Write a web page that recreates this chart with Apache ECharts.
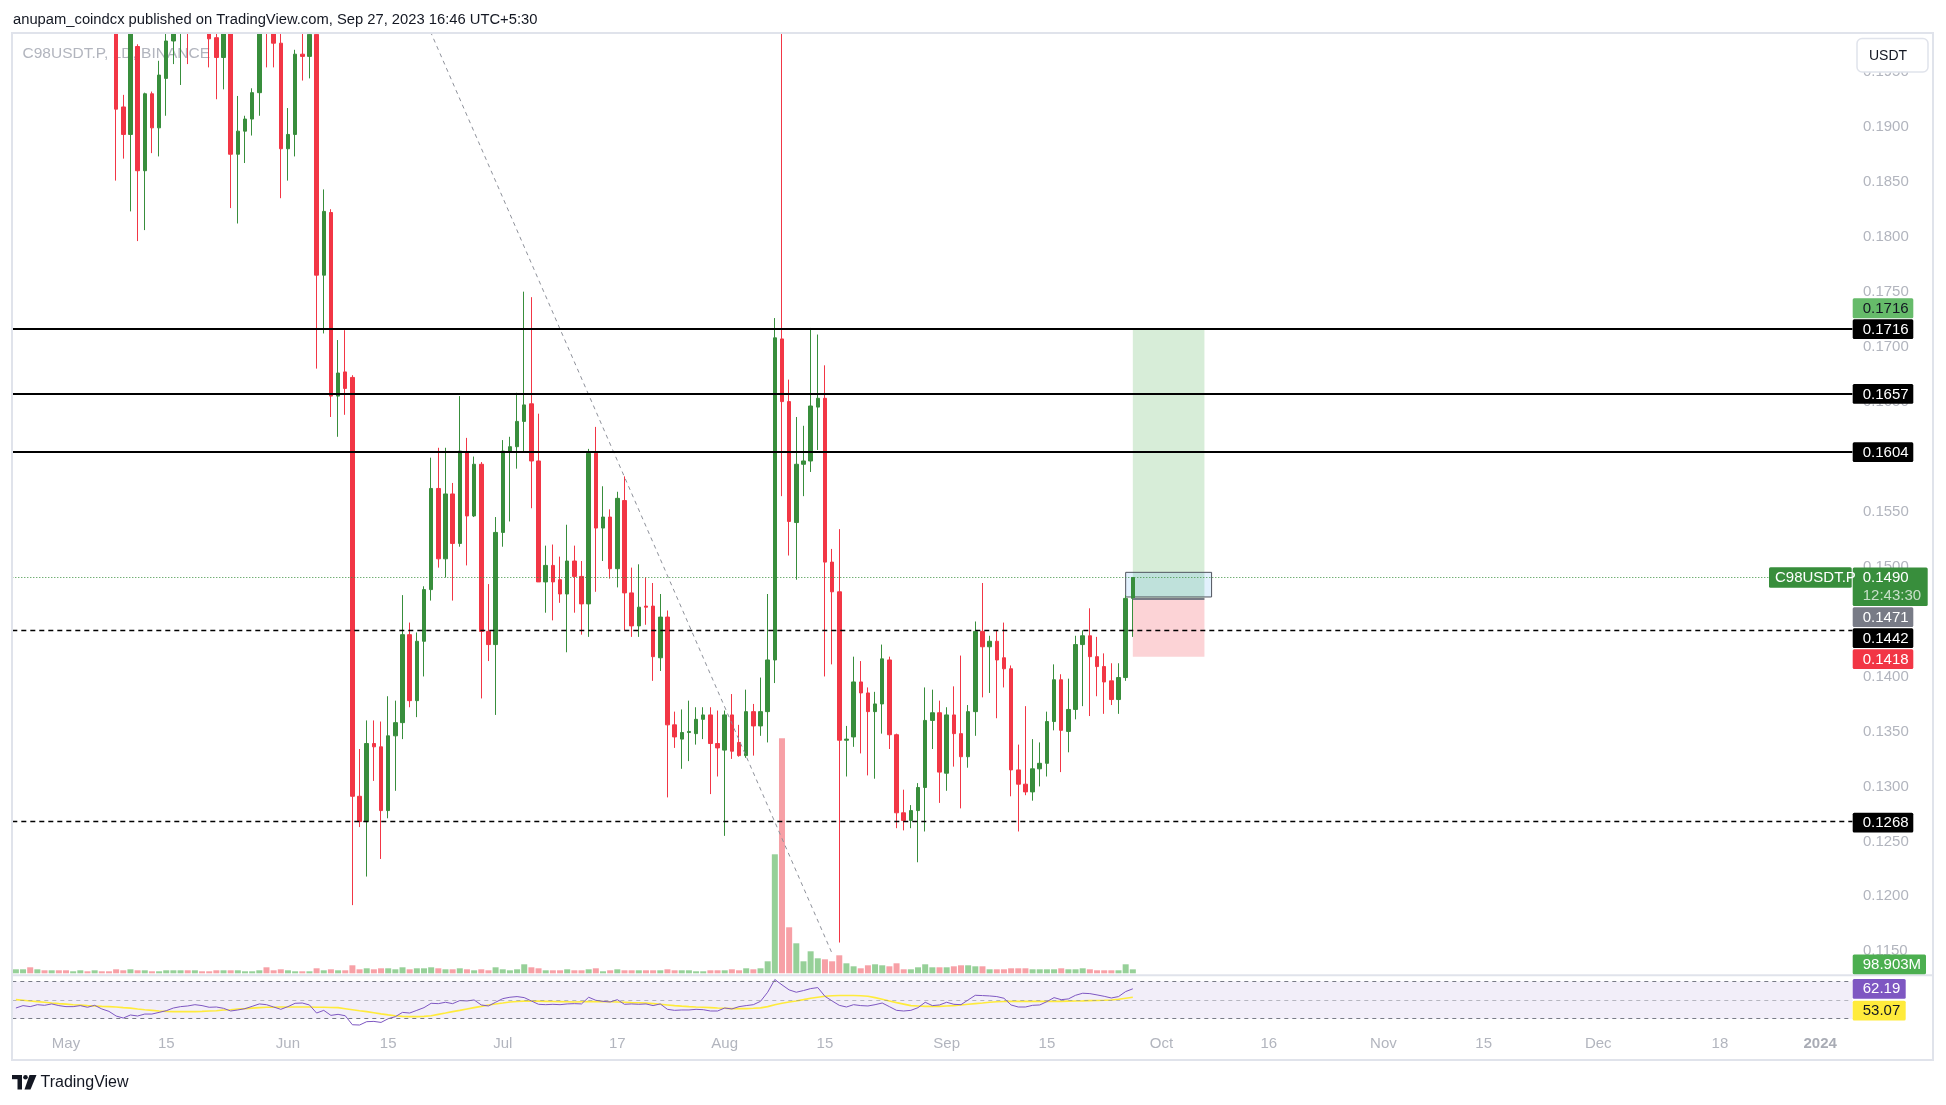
<!DOCTYPE html>
<html><head><meta charset="utf-8">
<script src="https://cdn.jsdelivr.net/npm/echarts/dist/echarts.min.js"></script>
<style>html,body{margin:0;padding:0;background:#fff;}#c{width:1946px;height:1105px;}</style>
</head><body><div id="c"></div>
<script>
// ---------------- DATA ----------------
const START_DATE = [2023, 3, 24];   // first daily bar (UTC, month 0-based)
const AXIS_DAYS = 257;              // visible time axis: 2023-04-24 .. 2024-01-05

// daily candles [open, high, low, close], 2023-04-24 .. 2023-09-27
const candles = [
[.2120,.2160,.2090,.2140],[.2140,.2180,.2110,.2160],[.2160,.2170,.2060,.2080],[.2080,.2140,.2060,.2120],
[.2120,.2130,.2070,.2090],[.2090,.2130,.2080,.2110],[.2110,.2120,.2060,.2070],
[.2070,.2080,.2010,.2030],[.2030,.2080,.2020,.2060],[.2060,.2090,.2040,.2070],[.2070,.2080,.2030,.2040],
[.2040,.2080,.2030,.2060],[.2060,.2070,.2010,.2020],[.2020,.2040,.1995,.2005],
[.2005,.2012,.1851,.1916],[.1918,.1929,.1871,.1893],[.1893,.2000,.1823,.1992],[.1973,.1975,.1796,.1860],
[.1860,.1931,.1806,.1930],[.1930,.1932,.1876,.1899],[.1899,.1960,.1873,.1947],[.1944,.1995,.1910,.1978],
[.1978,.2008,.1957,.1992],[.1992,.2020,.1938,.2005],[.2005,.2015,.1957,.1995],[.1995,.2030,.1990,.2015],
[.2015,.2025,.1992,.2000],[.1998,.2010,.1954,.1980],[.1981,.1995,.1925,.1963],[.1963,.2002,.1934,.1995],
[.1995,.2000,.1826,.1875],[.1875,.1928,.1812,.1896],[.1896,.1910,.1867,.1907],[.1907,.1935,.1892,.1931],
[.1931,.2000,.1910,.1992],[.1995,.2003,.1954,.1987],[.1987,.1995,.1954,.1976],[.1976,.1990,.1835,.1880],
[.1880,.1917,.1851,.1893],[.1893,.1970,.1873,.1966],[.1966,.1990,.1942,.1964],[.1964,.1990,.1944,.1984],
[.1984,.1995,.1680,.1765],[.1765,.1843,.1712,.1823],[.1822,.1825,.1636,.1655],[.1655,.1706,.1618,.1676],
[.1677,.1715,.1638,.1662],[.1672,.1674,.1192,.1291],[.1291,.1334,.1263,.1268],[.1268,.1360,.1218,.1339],
[.1339,.1360,.1305,.1336],[.1336,.1359,.1234,.1278],[.1278,.1382,.1271,.1346],[.1346,.1378,.1296,.1358],
[.1358,.1474,.1343,.1438],[.1438,.1449,.1372,.1378],[.1378,.1440,.1363,.1432],[.1432,.1482,.1400,.1479],
[.1479,.1599,.1469,.1571],[.1571,.1608,.1499,.1507],[.1507,.1608,.1490,.1566],[.1566,.1576,.1469,.1521],
[.1521,.1655,.1518,.1605],[.1604,.1617,.1501,.1546],[.1546,.1600,.1545,.1593],[.1593,.1595,.1380,.1441],
[.1441,.1484,.1414,.1429],[.1429,.1545,.1365,.1531],
[.1531,.1615,.1518,.1605],[.1605,.1618,.1541,.1609],[.1609,.1658,.1589,.1632],[.1632,.1750,.1605,.1647],
[.1648,.1745,.1553,.1596],[.1596,.1639,.1486,.1486],[.1486,.1519,.1458,.1501],[.1501,.1520,.1451,.1486],
[.1488,.1509,.1467,.1475],[.1475,.1538,.1422,.1505],[.1505,.1519,.1458,.1491],[.1491,.1505,.1438,.1466],
[.1466,.1607,.1436,.1603],[.1603,.1627,.1477,.1535],[.1535,.1573,.1505,.1545],[.1545,.1552,.1489,.1498],
[.1498,.1568,.1481,.1562],[.1560,.1582,.1442,.1476],[.1476,.1499,.1436,.1446],[.1446,.1502,.1436,.1463],
[.1464,.1490,.1447,.1463],[.1464,.1485,.1396,.1418],[.1417,.1475,.1405,.1454],[.1454,.1460,.1290,.1356],
[.1356,.1368,.1335,.1345],[.1343,.1370,.1316,.1349],[.1349,.1378,.1323,.1350],[.1348,.1372,.1338,.1361],
[.1361,.1372,.1343,.1365],[.1365,.1372,.1293,.1339],[.1339,.1369,.1309,.1335],
[.1333,.1369,.1255,.1365],[.1365,.1384,.1325,.1332],[.1340,.1356,.1327,.1328],[.1328,.1388,.1326,.1368],
[.1368,.1375,.1328,.1355],[.1355,.1399,.1346,.1368],[.1368,.1475,.1340,.1415],[.1415,.1726,.1394,.1708],
[.1707,.2100,.1564,.1650],[.1650,.1670,.1510,.1541],[.1540,.1636,.1488,.1593],[.1593,.1628,.1564,.1596],
[.1596,.1717,.1586,.1646],[.1645,.1711,.1606,.1653],[.1653,.1683,.1400,.1504],[.1504,.1516,.1411,.1477],
[.1477,.1534,.1158,.1342],[.1342,.1355,.1309,.1343],[.1345,.1418,.1336,.1395],[.1395,.1414,.1330,.1385],
[.1385,.1390,.1310,.1368],[.1368,.1386,.1307,.1375],[.1375,.1429,.1348,.1416],[.1415,.1418,.1334,.1347],
[.1347,.1348,.1262,.1276],[.1276,.1297,.1260,.1269],[.1269,.1283,.1262,.1278],[.1278,.1303,.1231,.1299],
[.1299,.1390,.1259,.1360],[.1360,.1388,.1334,.1367],[.1367,.1378,.1285,.1313],
[.1312,.1372,.1296,.1365],[.1365,.1391,.1318,.1348],[.1348,.1419,.1280,.1327],[.1327,.1374,.1317,.1368],
[.1368,.1450,.1346,.1441],[.1441,.1485,.1381,.1427],[.1427,.1437,.1385,.1432],[.1432,.1442,.1362,.1415],
[.1417,.1449,.1390,.1407],[.1407,.1410,.1291,.1315],[.1315,.1338,.1259,.1302],[.1302,.1373,.1292,.1295],
[.1295,.1343,.1287,.1316],[.1316,.1340,.1300,.1321],[.1321,.1368,.1309,.1359],[.1359,.1411,.1351,.1397],
[.1397,.1402,.1313,.1351],[.1350,.1398,.1331,.1370],[.1370,.1437,.1361,.1429],[.1429,.1442,.1373,.1437],
[.1437,.1462,.1364,.1418],[.1418,.1436,.1382,.1409],[.1409,.1421,.1366,.1395],[.1396,.1412,.1374,.1379],
[.1379,.1412,.1366,.1399],[.1399,.1474,.1396,.1471],[.1471,.1490,.1436,.1490]
];

// daily volume, millions
const volumeM = [
100,100,150,100,75,75,75,75,50,75,50,75,50,50,
100,75,100,75,75,50,50,75,75,75,75,75,50,50,75,75,75,75,50,50,75,150,75,100,
75,50,50,50,125,75,100,75,75,200,100,125,100,125,125,100,150,100,125,125,150,125,100,100,125,100,75,100,75,150,
100,75,100,225,150,125,75,75,75,100,75,75,100,125,50,75,100,75,75,75,75,75,75,100,75,75,75,50,50,75,75,
75,100,75,125,100,125,300,2975,5875,1150,750,300,550,375,350,300,450,250,175,125,200,225,200,175,250,100,100,150,225,150,150,
150,175,200,200,175,175,100,100,100,125,125,125,100,100,100,100,125,100,100,125,100,75,75,75,75,225,98.903
];

// RSI (14) and its moving average
const rsi = [
41.5,44.1,43.0,45.1,44.4,45.9,44.1,43.0,43.0,44.1,42.3,44.4,40.5,37.9,
32.9,30.7,34.0,32.9,35.0,35.0,36.8,38.6,41.5,43.0,43.7,45.1,44.1,42.3,42.6,41.2,38.3,39.4,40.8,43.3,45.9,45.1,42.6,40.1,
43.0,46.6,46.9,44.8,36.1,39.0,33.6,34.7,33.2,23.5,23.2,26.8,27.1,26.0,30.0,32.2,36.8,36.1,39.0,41.9,46.6,46.2,47.7,46.2,49.5,49.1,50.2,44.8,43.7,47.7,
51.6,53.1,53.8,52.7,49.1,45.5,45.1,45.5,45.1,45.9,46.2,45.9,53.1,49.8,48.7,48.0,50.5,45.5,45.9,45.5,45.9,44.1,45.9,40.1,39.0,39.4,39.4,40.1,39.7,38.3,38.3,
41.5,40.5,43.0,44.1,45.1,48.7,58.5,72.2,66.4,61.0,58.5,60.3,62.4,63.5,54.1,49.1,44.4,42.6,45.1,44.1,43.7,45.1,46.9,43.0,39.0,38.3,39.0,41.9,47.7,44.1,44.8,
47.7,45.5,45.1,50.2,55.2,54.9,54.5,53.8,52.0,44.8,42.6,42.6,44.4,44.8,48.4,52.7,50.5,51.3,55.2,57.4,57.0,55.6,54.1,52.3,53.8,59.2,62.19
];
const rsiMA = [
50.5,49.8,49.1,48.4,47.7,46.9,46.2,45.7,45.1,44.6,44.1,43.7,43.3,43.0,
42.6,41.9,41.4,40.5,39.7,39.0,38.3,37.9,37.6,37.6,37.6,37.6,37.9,38.3,38.6,39.4,39.7,40.5,40.8,41.4,41.9,42.3,42.4,42.6,
42.6,42.6,42.6,42.6,42.4,42.3,42.1,41.9,40.8,39.7,38.6,37.6,36.5,35.2,34.1,33.2,32.5,32.2,32.2,32.5,33.2,34.7,36.1,37.6,39.0,40.5,41.9,43.3,44.8,45.9,
46.9,48.0,48.6,48.9,49.1,48.9,48.7,48.6,48.4,48.2,48.0,48.2,48.4,48.4,48.4,48.2,48.0,47.7,47.3,47.1,46.9,46.2,45.5,44.8,44.1,43.5,43.0,42.6,42.3,41.9,41.5,
41.2,40.8,40.8,40.8,41.2,41.7,43.0,45.1,46.6,48.0,49.1,50.5,52.0,53.1,54.1,54.7,54.9,54.9,54.9,54.7,54.1,52.7,50.9,49.1,47.3,45.7,44.1,43.7,43.3,43.3,43.3,
43.7,44.1,44.8,45.5,46.2,46.9,47.7,48.2,48.6,48.7,48.7,48.7,48.7,48.7,48.7,48.7,48.7,48.9,49.1,49.2,49.5,49.6,49.8,50.2,50.9,52.0,53.07
];

// time axis tick labels
const tickLabels = [
['2023-05-01','May'],['2023-05-15','15'],['2023-06-01','Jun'],['2023-06-15','15'],
['2023-07-01','Jul'],['2023-07-17','17'],['2023-08-01','Aug'],['2023-08-15','15'],
['2023-09-01','Sep'],['2023-09-15','15'],['2023-10-01','Oct'],['2023-10-16','16'],
['2023-11-01','Nov'],['2023-11-15','15'],['2023-12-01','Dec'],['2023-12-18','18'],['2024-01-01','2024']
];

// drawings
const levelsSolid = [0.1716, 0.1657, 0.1604];
const levelsDashed = [0.1442, 0.1268];
const lastPrice = 0.1490;
const countdown = '12:43:30';
const symbolName = 'C98USDT.P';
const position = {entry: 0.1471, target: 0.1716, stop: 0.1418, from: '2023-09-27', to: '2023-10-07'};
const noteBox = {from: '2023-09-26', to: '2023-10-08', top: 0.14947, bottom: 0.14723};
const trendLine = [['2023-06-20', 0.2000], ['2023-08-16', 0.1148]];
const rsiLevels = [70, 50, 30];

// ---------------- BUILD ----------------
const cats = [];
const t0 = Date.UTC(START_DATE[0], START_DATE[1], START_DATE[2]);
for (let i = 0; i < AXIS_DAYS; i++) cats.push(new Date(t0 + i * 86400000).toISOString().slice(0, 10));
const tickMap = {};
tickLabels.forEach(t => { tickMap[t[0]] = t[1]; });

const FONT = "'Liberation Sans', Arial, sans-serif";
const UP = '#388e3c', DOWN = '#f23645';
const VOL_UP = '#96d098', VOL_DOWN = '#f7a0a6';
const AXIS_TXT = '#b2b5be';

const option = {
  animation: false,
  backgroundColor: '#ffffff',
  grid: [
    {left: 12.3, width: 1840.1, top: 33.3, height: 940},
    {left: 12.3, width: 1840.1, top: 975.5, height: 52.5}
  ],
  xAxis: [
    {type: 'category', gridIndex: 0, data: cats, boundaryGap: true, show: false},
    {type: 'category', gridIndex: 1, data: cats, boundaryGap: true,
      axisLine: {show: false}, axisTick: {show: false}, splitLine: {show: false},
      axisLabel: {
        interval: (i, v) => tickMap[v] !== undefined,
        formatter: v => tickMap[v] === '2024' ? '{b|2024}' : (tickMap[v] || ''),
        color: AXIS_TXT, fontSize: 15, fontFamily: FONT, margin: 8,
        rich: {b: {fontWeight: 'bold', color: '#a9acb5', fontSize: 15, fontFamily: FONT}}
      }}
  ],
  yAxis: [
    {type: 'value', gridIndex: 0, position: 'right', min: 0.1130, max: 0.1985, interval: 0.0005, scale: true,
      axisLine: {show: false}, axisTick: {show: false}, splitLine: {show: false},
      axisLabel: {margin: 10.5, color: AXIS_TXT, fontSize: 15, fontFamily: FONT,
        formatter: v => (Math.round(v * 10000) % 50 === 0 ? v.toFixed(4) : '')}},
    {type: 'value', gridIndex: 0, min: 0, max: 23500, show: false},
    {type: 'value', gridIndex: 1, min: 20, max: 76.5, show: false}
  ],
  series: [
    {
      name: 'Volume', type: 'bar', xAxisIndex: 0, yAxisIndex: 1, barWidth: 6, silent: true, z: 1,
      data: volumeM.map((v, i) => ({value: v, itemStyle: {color: candles[i][3] >= candles[i][0] ? VOL_UP : VOL_DOWN}}))
    },
    {
      name: 'C98USDT.P', type: 'candlestick', xAxisIndex: 0, yAxisIndex: 0, barWidth: 4, z: 3, silent: true,
      clip: true,
      data: candles.map(c => [c[0], c[3], c[2], c[1]]),
      itemStyle: {color: UP, color0: DOWN, borderColor: UP, borderColor0: DOWN, borderWidth: 1},
      markLine: {
        silent: true, symbol: ['none', 'none'], label: {show: false}, z: 6, precision: 6,
        data: [].concat(
          levelsSolid.map(v => ({yAxis: v, lineStyle: {color: '#000000', width: 2.2, type: 'solid'}})),
          levelsDashed.map(v => ({yAxis: v, lineStyle: {color: '#000000', width: 1.4, type: [5, 4]}})),
          [{yAxis: lastPrice, lineStyle: {color: UP, width: 1, type: [1, 2]}}],
          [[{coord: [position.from, position.entry], lineStyle: {color: '#787b86', width: 2, type: 'solid'}},
            {coord: [position.to, position.entry]}]]
        )
      },
      markArea: {
        silent: true, z: 1,
        data: [
          [{xAxis: position.from, yAxis: position.target, itemStyle: {color: 'rgba(76,175,80,0.225)'}},
           {xAxis: position.to, yAxis: position.entry}],
          [{xAxis: position.from, yAxis: position.entry, itemStyle: {color: 'rgba(242,54,69,0.22)'}},
           {xAxis: position.to, yAxis: position.stop}],
          [{xAxis: noteBox.from, yAxis: noteBox.top, itemStyle: {color: 'rgba(33,150,243,0.13)', borderColor: '#50535e', borderWidth: 1}},
           {xAxis: noteBox.to, yAxis: noteBox.bottom}]
        ]
      }
    },
    {
      name: 'Trend', type: 'line', xAxisIndex: 0, yAxisIndex: 0, data: trendLine, symbol: 'none', silent: true, z: 5, clip: true,
      lineStyle: {color: '#8e919a', width: 1, type: [4, 4]}
    },
    {
      name: 'RSI', type: 'line', xAxisIndex: 1, yAxisIndex: 2, data: rsi, symbol: 'none', silent: true, z: 4,
      lineStyle: {color: '#7e57c2', width: 1},
      markArea: {silent: true, itemStyle: {color: 'rgba(126,87,194,0.1)'}, data: [[{yAxis: rsiLevels[0]}, {yAxis: rsiLevels[2]}]]},
      markLine: {silent: true, symbol: ['none', 'none'], label: {show: false}, precision: 4,
        data: [
          {yAxis: rsiLevels[0], lineStyle: {color: '#787b86', width: 1, type: [4, 4]}},
          {yAxis: rsiLevels[1], lineStyle: {color: 'rgba(120,123,134,0.5)', width: 1, type: [4, 4]}},
          {yAxis: rsiLevels[2], lineStyle: {color: '#787b86', width: 1, type: [4, 4]}}
        ]}
    },
    {
      name: 'RSI MA', type: 'line', xAxisIndex: 1, yAxisIndex: 2, data: rsiMA, symbol: 'none', silent: true, z: 3,
      lineStyle: {color: '#ffeb3b', width: 1.6}
    }
  ]
};

const chart = echarts.init(document.getElementById('c'), null, {renderer: 'canvas'});
chart.setOption(option);

// ---------------- OVERLAYS (price tags, frame, texts) ----------------
const yP = v => chart.convertToPixel({yAxisIndex: 0}, v);
const yV = v => chart.convertToPixel({yAxisIndex: 1}, v);
const yR = v => chart.convertToPixel({yAxisIndex: 2}, v);
const TX = 1852.7, TH = 19.8, TW = 60.6;
const els = [];
function txt(x, y, s, color, size, extra) {
  return Object.assign({type: 'text', z: 101, silent: true,
    style: {x: x, y: y, text: s, fill: color, font: size + 'px ' + FONT,
      align: 'left', verticalAlign: 'middle', textAlign: 'left', textVerticalAlign: 'middle'}}, extra || {});
}
function tag(x, top, w, h, bg, fg, s) {
  els.push({type: 'rect', z: 100, silent: true, shape: {x: x, y: top, width: w, height: h, r: 1.5}, style: {fill: bg}});
  els.push(txt(x + 10, top + h / 2 + 0.5, s, fg, 15));
}
const lastLevelText = v => v.toFixed(4);

// mask above the plot (price pane clips at its top edge)
els.push({type: 'rect', z: 80, silent: true, shape: {x: 0, y: 0, width: 1946, height: 33.3}, style: {fill: '#ffffff'}});

// frame + separators
els.push({type: 'rect', z: 90, silent: true, shape: {x: 12, y: 33, width: 1921, height: 1027}, style: {fill: 'none', stroke: '#e0e3eb', lineWidth: 2}});
els.push({type: 'line', z: 90, silent: true, shape: {x1: 12, y1: 975.3, x2: 1933, y2: 975.3}, style: {stroke: '#e0e3eb', lineWidth: 2}});

// header + watermark
els.push(txt(13, 20, 'anupam_coindcx published on TradingView.com, Sep 27, 2023 16:46 UTC+5:30', '#131722', 14.75));
els.push(Object.assign(txt(22.5, 53.5, symbolName + ', 1D, BINANCE', '#b2b5be', 15.5), {z: 0}));

// currency button
els.push({type: 'rect', z: 95, silent: true, shape: {x: 1857, y: 38.6, width: 71, height: 33.4, r: 5}, style: {fill: '#ffffff', stroke: '#e0e3eb', lineWidth: 1.5}});
els.push(txt(1869, 56, 'USDT', '#131722', 14));

// stacked price tags
const yT = yP(position.target);
const blackTop = yT - TH / 2;
tag(TX, blackTop - 1 - TH, TW, TH, '#66bb6a', '#131722', lastLevelText(position.target));
levelsSolid.forEach(v => tag(TX, yP(v) - TH / 2, TW, TH, '#000000', '#ffffff', lastLevelText(v)));

const yLast = yP(lastPrice);
const curTop = yLast - 10.1, curH = 38.6;
els.push({type: 'rect', z: 100, silent: true, shape: {x: TX, y: curTop, width: 75, height: curH, r: 1.5}, style: {fill: UP}});
els.push(txt(TX + 10, yLast + 0.5, lastLevelText(lastPrice), '#ffffff', 15));
els.push(txt(TX + 10, yLast + 18.5, countdown, 'rgba(255,255,255,0.72)', 15));
els.push({type: 'rect', z: 100, silent: true, shape: {x: 1769, y: yLast - 10.3, width: 82.7, height: 20.6, r: 1.5}, style: {fill: UP}});
els.push(txt(1775, yLast + 0.5, symbolName, '#ffffff', 15));

let bottom = curTop + curH;
[[position.entry, '#787b86', '#ffffff'], [levelsDashed[0], '#000000', '#ffffff'], [position.stop, '#f23645', '#ffffff']].forEach(t => {
  let top = yP(t[0]) - TH / 2;
  if (top < bottom + 1.2) top = bottom + 1.2;
  tag(TX, top, TW, TH, t[1], t[2], lastLevelText(t[0]));
  bottom = top + TH;
});
tag(TX, yP(levelsDashed[1]) - TH / 2 + 1, TW, TH, '#000000', '#ffffff', lastLevelText(levelsDashed[1]));

// volume tag (clamped inside pane)
const lastVol = volumeM[volumeM.length - 1];
let vc = yV(lastVol);
if (vc > 974.2 - TH / 2) vc = 974.2 - TH / 2;
tag(TX, vc - TH / 2, 73.3, TH, '#4caf50', '#ffffff', lastVol.toFixed(3) + 'M');

// RSI tags
const r1 = yR(rsi[rsi.length - 1]) - TH / 2;
tag(TX, r1, 53, TH, '#7e57c2', '#ffffff', rsi[rsi.length - 1].toFixed(2));
let r2 = yR(rsiMA[rsiMA.length - 1]) - TH / 2;
if (r2 < r1 + TH + 2) r2 = r1 + TH + 2;
tag(TX, r2, 53, TH, '#ffeb3b', '#131722', rsiMA[rsiMA.length - 1].toFixed(2));

// TradingView logo + word mark
els.push({type: 'rect', z: 95, silent: true, shape: {x: 12, y: 1075, width: 10, height: 4.2}, style: {fill: '#131722'}});
els.push({type: 'rect', z: 95, silent: true, shape: {x: 17.5, y: 1075, width: 4.5, height: 14.5}, style: {fill: '#131722'}});
els.push({type: 'circle', z: 95, silent: true, shape: {cx: 25.5, cy: 1077.3, r: 2.3}, style: {fill: '#131722'}});
els.push({type: 'polygon', z: 95, silent: true, shape: {points: [[29.5, 1075], [36.5, 1075], [30.5, 1089.5], [24.5, 1089.5]]}, style: {fill: '#131722'}});
els.push(txt(40.5, 1082.5, 'TradingView', '#131722', 16));

chart.setOption({graphic: {elements: els}});
</script>
</body></html>
